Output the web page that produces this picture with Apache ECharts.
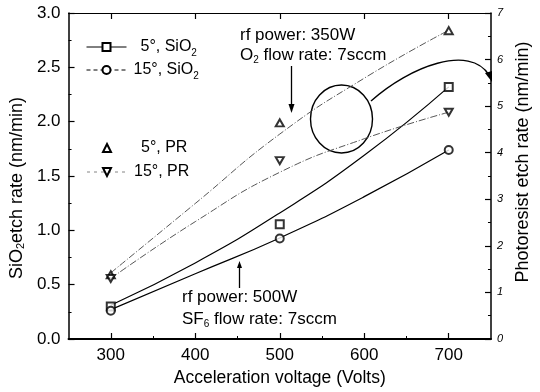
<!DOCTYPE html>
<html>
<head>
<meta charset="utf-8">
<script src="https://cdn.jsdelivr.net/npm/echarts@6/dist/echarts.min.js"></script>
<style>
	html, body { margin: 0; padding: 0; background: #fff; }
	#chart { width: 540px; height: 392px; }
</style>
</head>
<body>
<div id="chart"></div>
<script>
//measured points, acceleration voltage (V)
var voltage = [300, 500, 700];
//SiO2 etch rate (nm/min), left axis
var sio2Deg5 = [0.30, 1.055, 2.32];
var sio2Deg15 = [0.26, 0.925, 1.74];
//photoresist etch rate (nm/min), right axis
var prDeg5 = [1.38, 4.64, 6.62];
var prDeg15 = [1.30, 3.83, 4.87];

//fitted curves
var fitVoltage = [300, 400, 500, 600, 700];
var sio2Deg5Fit = [0.31, 0.70, 1.16, 1.69, 2.32];
var sio2Deg15Fit = [0.27, 0.60, 0.93, 1.31, 1.74];
var prDeg5Fit = [1.42, 2.91, 4.40, 5.60, 6.63];
var prDeg15Fit = [1.30, 2.52, 3.58, 4.30, 4.87];

//axis ticks
var xMajorTicks = [300, 400, 500, 600, 700];
var xMinorTicks = [350, 450, 550, 650];

var FONT = '"Liberation Sans", Arial, sans-serif';

var pairs = function(xs, ys) {
	var out = [];
	for(var i = 0; i < xs.length; i++) {
		out.push([xs[i], ys[i]]);
	}
	return out;
};

//subscript helper for rich text
var subRich = {
	s: {
		fontSize: 10,
		lineHeight: 10,
		verticalAlign: 'bottom',
		fontFamily: FONT,
		color: '#000'
	}
};
var withSub = function(name) {
	return name.replace('SiO2', 'SiO{s|2}');
};

var fitSeries = function(name, ys, symbol, rotate, axis, dashed) {
	return {
		name: name,
		type: 'line',
		yAxisIndex: axis,
		data: pairs(fitVoltage, ys),
		smooth: 0.5,
		symbol: symbol,
		symbolRotate: rotate,
		symbolSize: 8,
		showSymbol: false,
		silent: true,
		z: 2,
		itemStyle: { color: '#000', borderColor: '#000', borderWidth: 1 },
		lineStyle: dashed ? {
			color: '#444',
			width: 0.9,
			type: [7, 2, 1, 2]
		} : {
			color: '#000',
			width: 1.2,
			type: 'solid'
		}
	};
};

var pointSeries = function(name, ys, symbol, rotate, axis) {
	return {
		name: name,
		type: 'scatter',
		yAxisIndex: axis,
		data: pairs(voltage, ys),
		symbol: symbol,
		symbolRotate: rotate,
		symbolSize: symbol == 'emptyCircle' ? 8 : (symbol == 'emptyRect' ? 8 : [8, 7]),
		z: 3,
		itemStyle: { color: '#000', borderColor: '#000', borderWidth: 1 }
	};
};

var legendText = {
	fontSize: 16,
	lineHeight: 22,
	color: '#000',
	fontFamily: FONT,
	rich: subRich
};
var legendMark = { borderWidth: 1, borderColor: '#000' };

var option = {
	animation: false,
	backgroundColor: '#fff',
	grid: {
		left: 62,
		right: 40,
		top: 13,
		bottom: 53
	},
	legend: [{
		left: 86,
		top: 36,
		orient: 'vertical',
		padding: 0,
		itemGap: 1,
		itemWidth: 40,
		itemHeight: 10,
		selectedMode: false,
		formatter: withSub,
		textStyle: legendText,
		itemStyle: legendMark,
		data: [{
			name: '5°, SiO2',
			lineStyle: { type: 'solid', color: '#000', width: 1 },
			textStyle: { padding: [0, 0, 0, 9] }
		}, {
			name: '15°, SiO2',
			lineStyle: { type: [4, 3], color: '#000', width: 1 },
			textStyle: { padding: [0, 0, 0, 2] }
		}]
	}, {
		left: 86,
		top: 137,
		orient: 'vertical',
		padding: 0,
		itemGap: 2,
		itemWidth: 40,
		itemHeight: 10,
		selectedMode: false,
		textStyle: legendText,
		itemStyle: legendMark,
		data: [{
			name: '5°, PR',
			lineStyle: { opacity: 0 },
			textStyle: { padding: [0, 0, 0, 9] }
		}, {
			name: '15°, PR',
			lineStyle: { type: [3, 4], color: '#666', width: 0.8 },
			textStyle: { padding: [0, 0, 0, 2] }
		}]
	}],
	xAxis: [{
		type: 'value',
		position: 'bottom',
		min: 250,
		max: 750,
		interval: 50,
		name: 'Acceleration voltage (Volts)',
		nameLocation: 'middle',
		nameGap: 29,
		nameTextStyle: { fontSize: 17.5, color: '#000', fontFamily: FONT },
		axisLine: { lineStyle: { color: '#000', width: 2 } },
		axisTick: { inside: true, length: 6, customValues: xMajorTicks, lineStyle: { color: '#000', width: 1.2 } },
		axisLabel: { customValues: xMajorTicks, fontSize: 17, color: '#000', fontFamily: FONT, margin: 8 },
		splitLine: { show: false }
	}, {
		//minor ticks
		type: 'value',
		position: 'bottom',
		min: 250,
		max: 750,
		interval: 50,
		axisLine: { show: false },
		axisTick: { inside: true, length: 3, customValues: xMinorTicks, lineStyle: { color: '#000', width: 1 } },
		axisLabel: { show: false },
		splitLine: { show: false }
	}, {
		//top frame
		type: 'value',
		position: 'top',
		min: 250,
		max: 750,
		interval: 50,
		axisLine: { lineStyle: { color: '#000', width: 1.2 } },
		axisTick: { inside: true, length: 6, customValues: xMajorTicks, lineStyle: { color: '#000', width: 1.2 } },
		axisLabel: { show: false },
		splitLine: { show: false }
	}],
	yAxis: [{
		type: 'value',
		position: 'left',
		min: 0,
		max: 3,
		interval: 0.5,
		name: 'SiO{s|2}etch rate (nm/min)',
		nameLocation: 'middle',
		nameRotate: 90,
		nameGap: 35,
		nameTextStyle: {
			fontSize: 18,
			color: '#000',
			fontFamily: FONT,
			padding: [0, 24, 0, 0],
			rich: { s: { fontSize: 11, lineHeight: 11, verticalAlign: 'bottom', fontFamily: FONT, color: '#000' } }
		},
		axisLine: { show: true, lineStyle: { color: '#000', width: 1.5 } },
		axisTick: { inside: true, length: 6, lineStyle: { color: '#000', width: 1.2 } },
		minorTick: { show: true, splitNumber: 2, length: 3, lineStyle: { color: '#000', width: 1 } },
		axisLabel: {
			fontSize: 17,
			color: '#000',
			fontFamily: FONT,
			margin: 8,
			formatter: function(v) {
				return v.toFixed(1);
			}
		},
		splitLine: { show: false }
	}, {
		type: 'value',
		position: 'right',
		min: 0,
		max: 7,
		interval: 1,
		name: 'Photoresist etch rate (nm/min)',
		nameLocation: 'middle',
		nameRotate: 90,
		nameGap: 19,
		nameTextStyle: { fontSize: 18, color: '#000', fontFamily: FONT, padding: [0, 0, 0, 28] },
		axisLine: { show: true, lineStyle: { color: '#000', width: 1.5 } },
		axisTick: { inside: true, length: 6, lineStyle: { color: '#000', width: 1.2 } },
		minorTick: { show: true, splitNumber: 2, length: 3, lineStyle: { color: '#000', width: 1 } },
		axisLabel: { fontSize: 11, color: '#000', fontFamily: FONT, margin: 6, fontStyle: 'italic' },
		splitLine: { show: false }
	}],
	series: [
		fitSeries('5°, SiO2', sio2Deg5Fit, 'emptyRect', 0, 0, false),
		fitSeries('15°, SiO2', sio2Deg15Fit, 'emptyCircle', 0, 0, false),
		fitSeries('5°, PR', prDeg5Fit, 'emptyTriangle', 0, 1, true),
		fitSeries('15°, PR', prDeg15Fit, 'emptyTriangle', 180, 1, true),
		pointSeries('5°, SiO2', sio2Deg5, 'emptyRect', 0, 0),
		pointSeries('15°, SiO2', sio2Deg15, 'emptyCircle', 0, 0),
		pointSeries('5°, PR', prDeg5, 'emptyTriangle', 0, 1),
		pointSeries('15°, PR', prDeg15, 'emptyTriangle', 180, 1)
	],
	graphic: [{
		//rf power 350W note
		type: 'text',
		left: 240,
		top: 27,
		style: { text: 'rf power: 350W', fontSize: 17, fill: '#000', fontFamily: FONT }
	}, {
		type: 'text',
		left: 240,
		top: 47,
		style: {
			text: 'O{s|2} flow rate: 7sccm',
			fontSize: 17,
			fill: '#000',
			fontFamily: FONT,
			rich: { s: { fontSize: 10, fontFamily: FONT, fill: '#000', padding: [9, 0, 0, 0] } }
		}
	}, {
		type: 'line',
		shape: { x1: 291.5, y1: 66, x2: 291.5, y2: 108 },
		style: { stroke: '#000', lineWidth: 1.3 }
	}, {
		type: 'polygon',
		shape: { points: [[288.5, 104], [294.5, 104], [291.5, 113]] },
		style: { fill: '#000' }
	}, {
		//circled crossing
		type: 'ellipse',
		shape: { cx: 341.5, cy: 119, rx: 31, ry: 34 },
		style: { fill: 'none', stroke: '#000', lineWidth: 1.4 }
	}, {
		type: 'bezierCurve',
		shape: { x1: 371, y1: 101, cpx1: 410, cpy1: 66, cpx2: 470, cpy2: 44, x2: 489, y2: 75 },
		style: { fill: 'none', stroke: '#000', lineWidth: 1.4 }
	}, {
		type: 'polygon',
		shape: { points: [[485, 73], [492, 71], [492, 82]] },
		style: { fill: '#000' }
	}, {
		//rf power 500W note
		type: 'text',
		left: 182,
		top: 289,
		style: { text: 'rf power: 500W', fontSize: 17, fill: '#000', fontFamily: FONT }
	}, {
		type: 'text',
		left: 182,
		top: 311,
		style: {
			text: 'SF{s|6} flow rate: 7sccm',
			fontSize: 17,
			fill: '#000',
			fontFamily: FONT,
			rich: { s: { fontSize: 10, fontFamily: FONT, fill: '#000', padding: [9, 0, 0, 0] } }
		}
	}, {
		type: 'line',
		shape: { x1: 239.5, y1: 288, x2: 239.5, y2: 266 },
		style: { stroke: '#000', lineWidth: 1.3 }
	}, {
		type: 'polygon',
		shape: { points: [[237, 268], [242, 268], [239.5, 261]] },
		style: { fill: '#000' }
	}]
};

var chart = echarts.init(document.getElementById('chart'), null, { renderer: 'canvas' });
chart.setOption(option);
</script>
</body>
</html>
